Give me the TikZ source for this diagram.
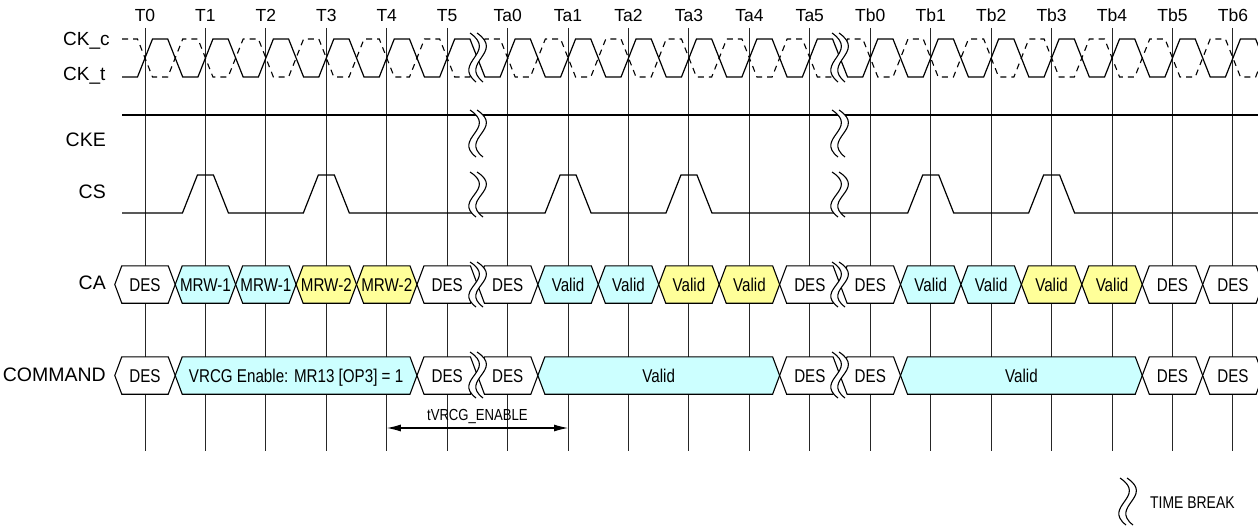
\documentclass[tikz,border=0pt]{standalone}
\usepackage{fontspec}
\setmainfont{Liberation Sans}
\newfontfamily\nf[FakeStretch=0.82]{Liberation Sans}
\usetikzlibrary{arrows.meta}
\definecolor{cyc}{RGB}{204,255,255}
\definecolor{ylc}{RGB}{255,255,153}
\tikzset{
  sig/.style={line width=1.2pt, line join=miter},
  ckc/.style={line width=1.1pt, dash pattern=on 6pt off 5pt},
  vline/.style={line width=1pt, black!85},
  cellline/.style={line width=1.1pt},
  celltxt/.style={anchor=base, inner sep=0pt, font=\nf\fontsize{18.5}{20}\selectfont},
  rowlab/.style={anchor=base east, inner sep=0pt, font=\fontsize{19.5}{21}\selectfont},
  tlab/.style={anchor=base, inner sep=0pt, font=\fontsize{17.5}{19}\selectfont},
  brk/.style={line width=1.1pt}
}
\newcommand\tdcell[6]{%
  \filldraw[cellline,fill=#4] (#1,#3) -- ({#1+7},{#3-18.7}) -- ({#2-7},{#3-18.7}) -- (#2,#3) -- ({#2-7},{#3+18.7}) -- ({#1+7},{#3+18.7}) -- cycle;
  \node[celltxt] (#6) at ({(#1+#2)/2},{#3+6.8}) {#5};
}
\newcommand\tbreak[3]{%
  \pgfmathsetmacro\tbh{#3-#2}%
  \fill[white] (#1,#2) .. controls ({#1+28},{#2+0.4*\tbh}) and ({#1-18},{#2+0.6*\tbh}) .. ({#1+6},#3) -- ({#1+13},#3) .. controls ({#1-11},{#2+0.6*\tbh}) and ({#1+35},{#2+0.4*\tbh}) .. ({#1+7},#2) -- cycle;
  \draw[brk] (#1,#2) .. controls ({#1+28},{#2+0.4*\tbh}) and ({#1-18},{#2+0.6*\tbh}) .. ({#1+6},#3);
  \draw[brk] ({#1+7},#2) .. controls ({#1+35},{#2+0.4*\tbh}) and ({#1-11},{#2+0.6*\tbh}) .. ({#1+13},#3);
}
\begin{document}
\begin{tikzpicture}[x=1pt,y=-1pt]
\useasboundingbox (0,0) rectangle (1258,527);
\begin{scope}
\clip (0,0) rectangle (1258,527);
% vertical lines and T labels
\foreach \i/\lab in {0/T0,1/T1,2/T2,3/T3,4/T4,5/T5,6/Ta0,7/Ta1,8/Ta2,9/Ta3,10/Ta4,11/Ta5,12/Tb0,13/Tb1,14/Tb2,15/Tb3,16/Tb4,17/Tb5,18/Tb6}{
  \coordinate (vt\i) at ({145+\i*60.44},28);
  \coordinate (vb\i) at ({145+\i*60.44},451);
  \draw[vline] (vt\i) -- (vb\i);
  \node[tlab] (tl\i) at ({145+\i*60.44},21.7) {\lab};
}
% row labels
\node[anchor=base west, inner sep=0pt, font=\fontsize{19}{21}\selectfont] (lckc) at (63,46) {CK\_c};
\node[anchor=base west, inner sep=0pt, font=\fontsize{19}{21}\selectfont] (lckt) at (63,81) {CK\_t};
\node[rowlab] (lcke) at (106,146) {CKE};
\node[rowlab] (lcs) at (106,198.3) {CS};
\node[rowlab] (lca) at (106,289.5) {CA};
\node[rowlab] (lcmd) at (106,381.8) {COMMAND};
% clocks
\draw[sig] (122,77) foreach \i in {0,...,18} { -- ({145+\i*60.44-7.5},77) -- ({145+\i*60.44+7.5},39) -- ({145+\i*60.44+22.72},39) -- ({145+\i*60.44+37.72},77) };
\draw[ckc] (122,39) foreach \i in {0,...,18} { -- ({145+\i*60.44-7.5},39) -- ({145+\i*60.44+7.5},77) -- ({145+\i*60.44+22.72},77) -- ({145+\i*60.44+37.72},39) };
% CKE
\draw[sig] (122,115) -- (1258,115);
% CS
\draw[sig] (122,213) foreach \i in {1,3,7,9,13,15} { -- ({145+\i*60.44-23},213) -- ({145+\i*60.44-8},175) -- ({145+\i*60.44+8},175) -- ({145+\i*60.44+23},213) } -- (1258,213);
% CA cells
\foreach \i/\cl/\tx in {0/white/DES,1/cyc/MRW-1,2/cyc/MRW-1,3/ylc/MRW-2,4/ylc/MRW-2,5/white/DES,6/white/DES,7/cyc/Valid,8/cyc/Valid,9/ylc/Valid,10/ylc/Valid,11/white/DES,12/white/DES,13/cyc/Valid,14/cyc/Valid,15/ylc/Valid,16/ylc/Valid,17/white/DES,18/white/DES}{
  \pgfmathsetmacro\xa{145+\i*60.44-30.22}
  \pgfmathsetmacro\xb{145+\i*60.44+30.22}
  \tdcell{\xa}{\xb}{284.5}{\cl}{\tx}{ca\i}
}
% COMMAND cells
\foreach \i/\j/\cl/\tx in {0/0/white/DES,1/4/cyc/{VRCG Enable: MR13 [OP3] = 1},5/5/white/DES,6/6/white/DES,7/10/cyc/Valid,11/11/white/DES,12/12/white/DES,13/16/cyc/Valid,17/17/white/DES,18/18/white/DES}{
  \pgfmathsetmacro\xa{145+\i*60.44-30.22}
  \pgfmathsetmacro\xb{145+\j*60.44+30.22}
  \tdcell{\xa}{\xb}{375.5}{\cl}{\tx}{cm\i}
}
% time breaks
\foreach \bx in {470,832}{
  \tbreak{\bx}{33}{82}
  \tbreak{\bx}{110}{157}
  \tbreak{\bx}{172}{217}
  \tbreak{\bx}{262}{307}
  \tbreak{\bx}{352}{398}
}
% tVRCG_ENABLE
\coordinate (arA) at ({145+4*60.44},428);
\coordinate (arB) at ({145+7*60.44},428);
\draw[line width=1.1pt, {Latex[length=14pt,width=7pt]}-{Latex[length=14pt,width=7pt]}] (arA) -- (arB);
\node[anchor=base, inner sep=0pt, font=\nf\fontsize{16}{18}\selectfont] (tvr) at ({145+5.5*60.44},420) {tVRCG\_ENABLE};
% legend
\tbreak{1120}{478}{525}
\node[anchor=base west, inner sep=0pt, font=\nf\fontsize{17}{19}\selectfont] (tbl) at (1150,508) {TIME BREAK};
\end{scope}
\end{tikzpicture}
\end{document}
